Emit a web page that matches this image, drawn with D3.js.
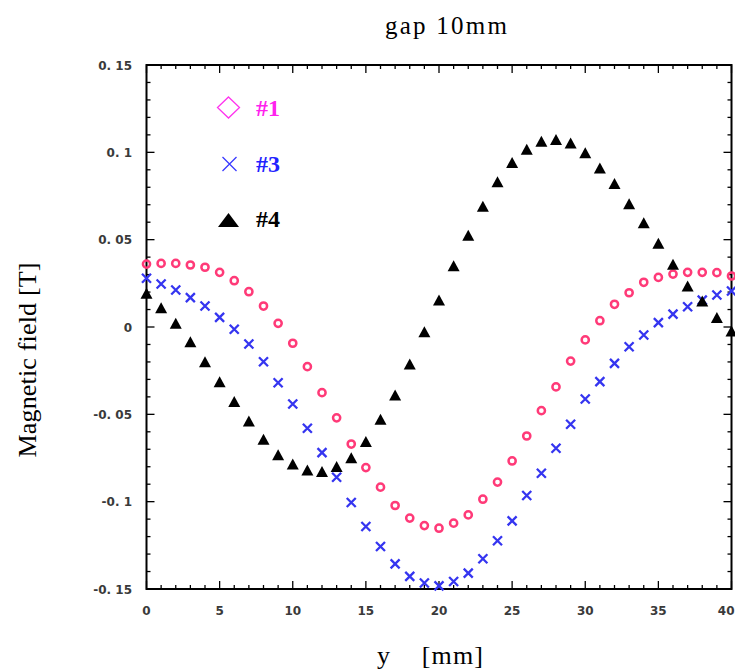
<!DOCTYPE html>
<html><head><meta charset="utf-8">
<script src="https://cdn.jsdelivr.net/npm/d3@7"></script>
<style>html,body{margin:0;padding:0;background:#fff;}svg{display:block;}</style>
</head><body>
<script>
const xs = d3.range(0, 41);
const s1 = [0.036,0.0364,0.0364,0.0355,0.0342,0.0313,0.0265,0.0202,0.012,0.0021,-0.0093,-0.0227,-0.0376,-0.052,-0.067,-0.0805,-0.0917,-0.1022,-0.1094,-0.1137,-0.1152,-0.1123,-0.1076,-0.0986,-0.0888,-0.0767,-0.0624,-0.0479,-0.0343,-0.0195,-0.0074,0.0036,0.013,0.0196,0.0256,0.0284,0.0303,0.0313,0.0313,0.0311,0.0292];
const s3 = [0.0279,0.0246,0.0212,0.0168,0.012,0.0055,-0.0013,-0.0097,-0.0199,-0.0319,-0.0441,-0.058,-0.0719,-0.086,-0.1005,-0.1142,-0.1257,-0.1356,-0.1428,-0.1466,-0.1482,-0.1457,-0.1409,-0.1327,-0.1224,-0.111,-0.0965,-0.0837,-0.0694,-0.0557,-0.0412,-0.0313,-0.0208,-0.0113,-0.0046,0.0025,0.0074,0.0116,0.0154,0.0183,0.0206];
const s4 = [0.0193,0.011,0.0021,-0.0084,-0.0199,-0.0313,-0.0427,-0.0538,-0.0642,-0.0732,-0.0785,-0.0818,-0.0828,-0.0799,-0.0748,-0.0656,-0.0528,-0.0389,-0.0212,-0.0027,0.0154,0.0351,0.0526,0.0692,0.0831,0.0942,0.1018,0.1064,0.1074,0.1054,0.0997,0.0911,0.0822,0.0706,0.0597,0.0479,0.0359,0.0235,0.0149,0.0055,-0.0023];
const seriesNames = ["#1", "#3", "#4"];
const xTicks = [0,5,10,15,20,25,30,35,40];
const xTickLabels = ["0","5","10","15","20","25","30","35","40"];
const yTicks = [-0.15,-0.1,-0.05,0,0.05,0.1,0.15];
const yTickLabels = ["-0. 15","-0. 1","-0. 05","0","0. 05","0. 1","0. 15"];
const title = "gap 10mm";
const xLabel = "y    [mm]";
const yLabel = "Magnetic field [T]";

const W = 735, H = 669;
const svg = d3.select("body").append("svg").attr("width", W).attr("height", H);
const x = d3.scaleLinear().domain([0, 40]).range([146.5, 731.5]);
const y = d3.scaleLinear().domain([-0.15, 0.15]).range([589, 65]);
const [x0, x1] = x.range(), [y0, y1] = y.range();

// frame
svg.append("rect").attr("x", x0).attr("y", y1).attr("width", x1 - x0).attr("height", y0 - y1)
  .attr("fill", "none").attr("stroke", "#000").attr("stroke-width", 2);

const minorX = d3.range(0, 41, 1), minorY = d3.range(-0.15, 0.1501, 0.01);
const tickG = svg.append("g").attr("stroke", "#000").attr("stroke-width", 1.3);
minorX.forEach(v => {
  const major = Math.abs(v % 5) < 1e-9;
  const L = major ? 8 : 4;
  tickG.append("line").attr("x1", x(v)).attr("x2", x(v)).attr("y1", y0).attr("y2", y0 - L);
  tickG.append("line").attr("x1", x(v)).attr("x2", x(v)).attr("y1", y1).attr("y2", y1 + L);
});
minorY.forEach(v => {
  const major = Math.abs(Math.round(v * 100) % 5) === 0;
  const L = major ? 8 : 4;
  tickG.append("line").attr("y1", y(v)).attr("y2", y(v)).attr("x1", x0).attr("x2", x0 + L);
  tickG.append("line").attr("y1", y(v)).attr("y2", y(v)).attr("x1", x1).attr("x2", x1 - L);
});

// tick labels
const tl = svg.append("g").attr("font-family", "DejaVu Sans").attr("font-weight", "bold")
  .attr("font-size", 12).attr("fill", "#3a3a3a");
xTicks.forEach((v, i) => {
  const last = i === xTicks.length - 1;
  tl.append("text").attr("x", last ? x(v) + 3 : x(v)).attr("y", 615)
    .attr("text-anchor", last ? "end" : "middle").text(xTickLabels[i]);
});
yTicks.forEach((v, i) => {
  tl.append("text").attr("x", 132).attr("y", y(v) + 4.5).attr("text-anchor", "end").text(yTickLabels[i]);
});

// titles
svg.append("text").attr("x", 446).attr("y", 34).attr("text-anchor", "middle")
  .attr("font-family", "Liberation Serif").attr("font-size", 25)
  .attr("textLength", 122).attr("lengthAdjust", "spacing").text(title);
svg.append("text").attr("x", 377).attr("y", 664)
  .attr("font-family", "Liberation Serif").attr("font-size", 26)
  .attr("xml:space", "preserve").style("white-space", "pre")
  .attr("textLength", 106).attr("lengthAdjust", "spacing").text(xLabel);
svg.append("text").attr("transform", "translate(36,360) rotate(-90)").attr("text-anchor", "middle")
  .attr("font-family", "Liberation Serif").attr("font-size", 26)
  .attr("textLength", 195).attr("lengthAdjust", "spacing").text(yLabel);

// data
const d1 = xs.map((v, i) => [v, s1[i]]);
const d3s = xs.map((v, i) => [v, s3[i]]);
const d4 = xs.map((v, i) => [v, s4[i]]);

svg.append("g").selectAll("circle").data(d1).join("circle")
  .attr("cx", d => x(d[0])).attr("cy", d => y(d[1])).attr("r", 3.6)
  .attr("fill", "none").attr("stroke", "#ff3a78").attr("stroke-width", 2.5);

const crossPath = (s) => `M${-s},${-s}L${s},${s}M${-s},${s}L${s},${-s}`;
svg.append("g").selectAll("path").data(d3s).join("path")
  .attr("transform", d => `translate(${x(d[0])},${y(d[1])})`)
  .attr("d", crossPath(4.5)).attr("fill", "none").attr("stroke", "#3535f0").attr("stroke-width", 2.3);

const triPath = (w, h) => `M0,${-h/2}L${w/2},${h/2}L${-w/2},${h/2}Z`;
svg.append("g").selectAll("path").data(d4).join("path")
  .attr("transform", d => `translate(${x(d[0])},${y(d[1])})`)
  .attr("d", triPath(12, 11)).attr("fill", "#000");

// legend
const lg = svg.append("g");
lg.append("path").attr("transform", "translate(228.5,107.5)")
  .attr("d", "M0,-10.5L11,0L0,10.5L-11,0Z").attr("fill", "none").attr("stroke", "#ff33ee").attr("stroke-width", 1.3);
lg.append("path").attr("transform", "translate(229.5,164)")
  .attr("d", crossPath(7)).attr("fill", "none").attr("stroke", "#3a3aff").attr("stroke-width", 1.3);
lg.append("path").attr("transform", "translate(228.5,220)")
  .attr("d", triPath(21, 14)).attr("fill", "#000");
const legendColors = ["#ff22ee", "#2222ff", "#000"];
const legendY = [116, 171.5, 227];
seriesNames.forEach((n, i) => {
  lg.append("text").attr("x", 256).attr("y", legendY[i])
    .attr("font-family", "Liberation Serif").attr("font-weight", "bold").attr("font-size", 24)
    .attr("fill", legendColors[i]).text(n);
});
</script>
</body></html>
